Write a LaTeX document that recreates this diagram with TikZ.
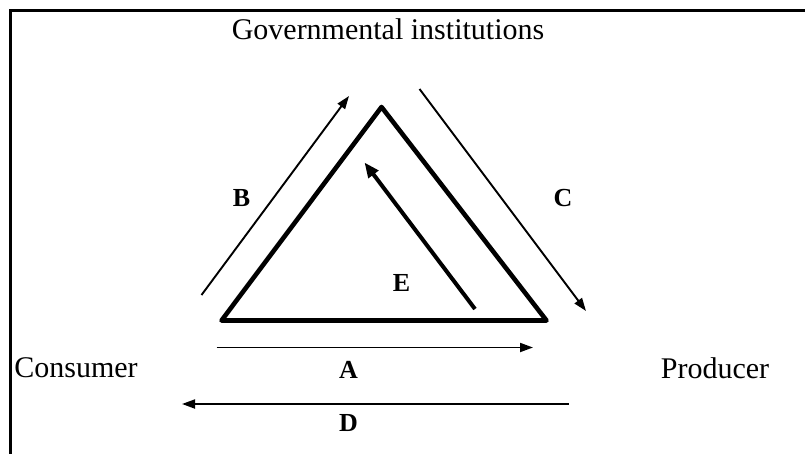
\documentclass[tikz,border=0pt]{standalone}
\usepackage{fontspec}
\setmainfont{Liberation Serif}
\usetikzlibrary{arrows.meta}
\begin{document}
\begin{tikzpicture}[x=1pt,y=-1pt,
  lbl/.style={font=\fontsize{30}{33}\selectfont, inner sep=0pt},
  letter/.style={font=\fontsize{26}{29}\selectfont\bfseries, inner sep=0pt},
  thinarrow/.style={line width=1.9pt, -{Triangle[length=13pt,width=9pt]}},
  thickarrow/.style={line width=4pt, -{Triangle[length=15pt,width=12pt]}},
  tri/.style={line width=4.6pt, line join=round, line cap=round}]
\useasboundingbox (0,0) rectangle (805,453);
% frame
\draw[line width=3pt] (10,455) -- (10,10) -- (807,10);
% texts
\node[lbl] (gov) at (388,29) {Governmental institutions};
\node[lbl] (cons) at (76,368) {Consumer};
\node[lbl] (prod) at (715,368) {Producer};
% triangle
\coordinate (top) at (381.5,107);
\coordinate (bl) at (221.5,320.5);
\coordinate (br) at (546.5,320.5);
\draw[tri] (top) -- (bl) -- (br) -- cycle;
% arrows
\coordinate (b1) at (201.5,295);
\coordinate (b2) at (349,96);
\draw[thinarrow] (b1) -- (b2);
\coordinate (c1) at (419.5,89);
\coordinate (c2) at (586,311);
\draw[thinarrow] (c1) -- (c2);
\coordinate (e1) at (475,309);
\coordinate (e2) at (364.5,162.5);
\draw[thickarrow] (e1) -- (e2);
\coordinate (a1) at (216.5,347.5);
\coordinate (a2) at (533,347.5);
\draw[thinarrow] (a1) -- (a2);
\coordinate (d1) at (568.5,404);
\coordinate (d2) at (182,404);
\draw[thinarrow] (d1) -- (d2);
% letters
\node[letter] (B) at (241.5,198.5) {B};
\node[letter] (C) at (563,198.5) {C};
\node[letter] (E) at (401.5,283) {E};
\node[letter] (A) at (348.5,370) {A};
\node[letter] (D) at (348.5,423.5) {D};
\end{tikzpicture}
\end{document}
